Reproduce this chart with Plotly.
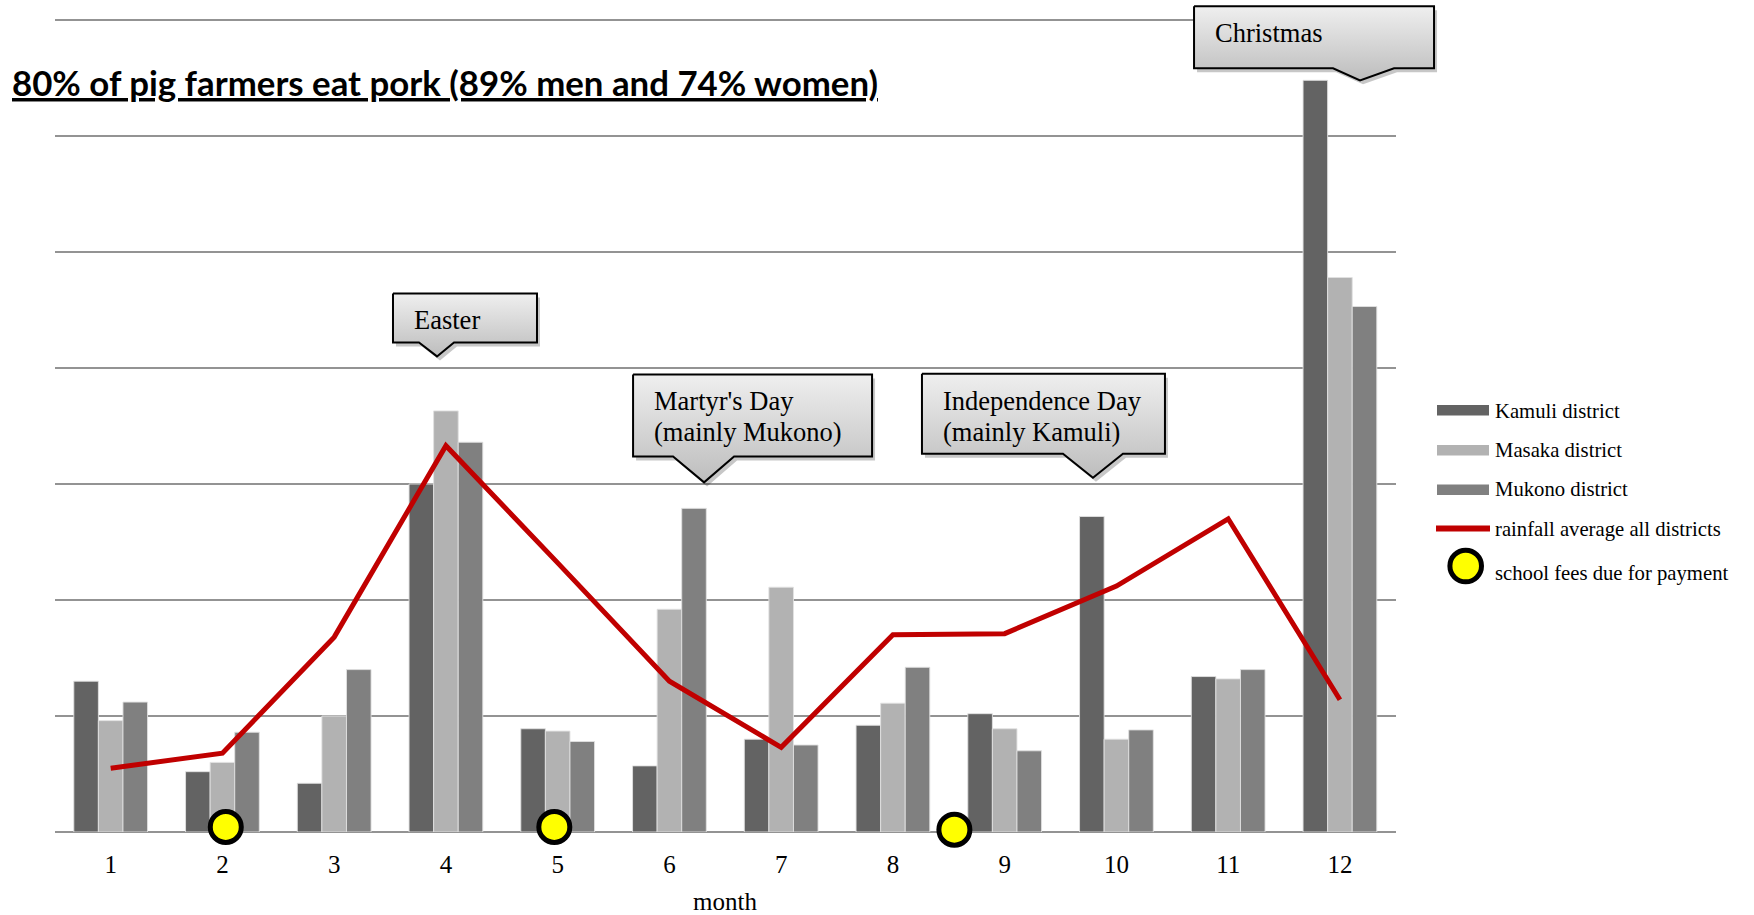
import plotly.graph_objects as go

# ---------------- data ----------------
months = list(range(1, 13))
month_labels = [str(m) for m in months]

kamuli = [6.5, 2.6, 2.1, 15.0, 4.45, 2.85, 4.0, 4.6, 5.1, 13.6, 6.7, 32.4]
masaka = [4.8, 3.0, 5.0, 18.15, 4.35, 9.6, 10.55, 5.55, 4.45, 4.0, 6.6, 23.9]
mukono = [5.6, 4.3, 7.0, 16.8, 3.9, 13.95, 3.75, 7.1, 3.5, 4.4, 7.0, 22.65]
rainfall = [2.75, 3.4, 8.4, 16.65, 11.6, 6.5, 3.65, 8.5, 8.55, 10.6, 13.5, 5.7]

fee_months = [2.03, 4.97, 8.55]
fee_level = [0.22, 0.22, 0.1]

district_names = ["Kamuli district", "Masaka district", "Mukono district"]
rain_name = "rainfall average all districts"
fee_name = "school fees due for payment"

events = [["Easter"],
          ["Martyr's Day", "(mainly Mukono)"],
          ["Independence Day", "(mainly Kamuli)"],
          ["Christmas"]]

title_text = "80% of pig farmers eat pork (89% men and 74% women)"
x_title = "month"

# ---------------- geometry & style ----------------
W, H = 1754, 915
PLOT_L, PLOT_R = 54.8, 1395.8      # left/right edge of the plotting area (px)
BASE_Y = 832.0                     # y pixel of the zero line
GRID_STEP, GRID_PX, N_GRID = 5, 116.0, 7
UNIT_PX = GRID_PX / GRID_STEP
Y_TOP = BASE_Y / UNIT_PX           # value reached at the top edge of the page

SERIF = "Liberation Serif, Times New Roman, serif"
bar_colors = ["#636363", "#b2b2b2", "#808080"]
RAIN_COLOR = "#c00000"
GRID_COLOR = "#939393"
LINE_GAP = 31                      # line spacing inside callouts (px)


def to_px(m, v):
    """Convert (month position, value) to page pixels (y downward)."""
    return (PLOT_L + (m - 0.5) * (PLOT_R - PLOT_L) / 12.0,
            BASE_Y - v * UNIT_PX)


# callouts: tip anchor in data units, box offsets (left, right, top, bottom)
# and notch base offsets (left, right), in pixels relative to the tip
callout_geom = [
    dict(tip=(3.92, 20.5), box=(-44, 100, -63, -14), notch=(-18, 17)),
    dict(tip=(6.31, 15.07), box=(-71, 168, -108, -26), notch=(-31, 30)),
    dict(tip=(9.79, 15.27), box=(-171, 72, -104, -24), notch=(-30, 30)),
    dict(tip=(12.18, 32.4), box=(-166, 74, -74, -12), notch=(-27, 34)),
]

fig = go.Figure()

# district bars
for name, vals, col in zip(district_names, [kamuli, masaka, mukono], bar_colors):
    fig.add_trace(go.Bar(
        x=months, y=vals, name=name, marker=dict(color=col,
        line=dict(color="rgba(225,225,225,0.9)", width=1)),
        showlegend=False, hoverinfo="x+y+name"))

# rainfall line
fig.add_trace(go.Scatter(
    x=months, y=rainfall, name=rain_name, mode="lines",
    line=dict(color=RAIN_COLOR, width=5), cliponaxis=False, showlegend=False))

# school fee markers
fig.add_trace(go.Scatter(
    x=fee_months, y=fee_level, name=fee_name, mode="markers",
    marker=dict(size=31, color="#ffff00", line=dict(color="black", width=5)),
    cliponaxis=False, showlegend=False))

# callout boxes drawn on a page-sized pixel overlay (x2/y2, y upward)
annotations = []
for lines, g in zip(events, callout_geom):
    tx, ty = to_px(*g["tip"])
    l, r, t, b = g["box"]
    nl, nr = g["notch"]
    pts = [(tx + l, ty + t), (tx + r, ty + t), (tx + r, ty + b),
           (tx + nr, ty + b), (tx, ty), (tx + nl, ty + b),
           (tx + l, ty + b), (tx + l, ty + t)]
    xs = [p[0] for p in pts]
    ys = [H - p[1] for p in pts]
    fig.add_trace(go.Scatter(
        x=[x + 3 for x in xs], y=[y - 4 for y in ys], mode="lines",
        fill="toself", fillcolor="rgba(0,0,0,0.22)", line=dict(width=0),
        xaxis="x2", yaxis="y2", hoverinfo="skip", showlegend=False))
    fig.add_trace(go.Scatter(
        x=xs, y=ys, mode="lines", fill="toself",
        fillgradient=dict(type="vertical",
                          colorscale=[[0, "#bdbdbd"], [1, "#efefef"]]),
        line=dict(color="black", width=2),
        xaxis="x2", yaxis="y2", hoverinfo="skip", showlegend=False))
    for k, line_text in enumerate(lines):
        cy = ty + t + 27 + k * LINE_GAP
        annotations.append(dict(
            x=tx + l + 19, y=H - cy, xref="x2", yref="y2", text=line_text,
            showarrow=False, xanchor="left", yanchor="middle", align="left",
            font=dict(family=SERIF, size=26.5, color="black")))

# legend
shapes = []
LEG_X0, LEG_X1, LEG_TX = 1437, 1489, 1493
leg_rows = [410.3, 450.3, 489.7, 528.5, 566.0]
leg_text_y = [410.5, 449.7, 488.8, 529.1, 573.5]
for i, col in enumerate(bar_colors):
    cy = leg_rows[i]
    shapes.append(dict(type="rect", xref="x2", yref="y2", x0=LEG_X0, x1=LEG_X1,
                       y0=H - cy - 5.3, y1=H - cy + 5.3,
                       fillcolor=col, line=dict(width=0)))
shapes.append(dict(type="line", xref="x2", yref="y2", x0=1436, x1=1490,
                   y0=H - leg_rows[3], y1=H - leg_rows[3],
                   line=dict(color=RAIN_COLOR, width=6)))
shapes.append(dict(type="circle", xref="x2", yref="y2",
                   x0=1465.7 - 15.8, x1=1465.7 + 15.8,
                   y0=H - leg_rows[4] - 15.8, y1=H - leg_rows[4] + 15.8,
                   fillcolor="#ffff00", line=dict(color="black", width=5)))
for name, ty in zip(district_names + [rain_name, fee_name], leg_text_y):
    annotations.append(dict(
        x=LEG_TX, y=H - ty, xref="x2", yref="y2", text=name, showarrow=False,
        xanchor="left", yanchor="middle",
        font=dict(family=SERIF, size=20.7, color="black")))

# title and axis label
annotations.append(dict(
    x=10, y=H - 82, xref="x2", yref="y2", text=title_text, showarrow=False,
    xanchor="left", yanchor="middle",
    font=dict(family="Lato, Open Sans, sans-serif", size=34.8, color="black",
              weight="bold", lineposition="under")))
annotations.append(dict(
    x=(PLOT_L + PLOT_R) / 2, y=H - 901, xref="x2", yref="y2", text=x_title,
    showarrow=False, xanchor="center", yanchor="middle",
    font=dict(family=SERIF, size=25, color="black")))

fig.update_layout(
    width=W, height=H, margin=dict(l=0, r=0, t=0, b=0),
    paper_bgcolor="white", plot_bgcolor="rgba(0,0,0,0)",
    barmode="group", bargap=0.34, bargroupgap=0,
    showlegend=False,
    xaxis=dict(domain=[PLOT_L / W, PLOT_R / W], range=[0.5, 12.5],
               tickvals=months, ticktext=month_labels, showgrid=False,
               zeroline=False, showline=False, ticks="",
               ticklabelstandoff=15,
               tickfont=dict(family=SERIF, size=25, color="black"),
               fixedrange=True),
    yaxis=dict(domain=[1 - BASE_Y / H, 1], range=[0, Y_TOP],
               tickvals=[GRID_STEP * k for k in range(N_GRID + 1)],
               showticklabels=False, showgrid=True, gridcolor=GRID_COLOR,
               gridwidth=2, zeroline=True, zerolinecolor=GRID_COLOR,
               zerolinewidth=2, showline=False, ticks="", fixedrange=True),
    xaxis2=dict(domain=[0, 1], range=[0, W], visible=False, anchor="y2",
                fixedrange=True),
    yaxis2=dict(domain=[0, 1], range=[0, H], visible=False, anchor="x2",
                fixedrange=True),
    shapes=shapes, annotations=annotations,
)

fig.write_html("out.html")
